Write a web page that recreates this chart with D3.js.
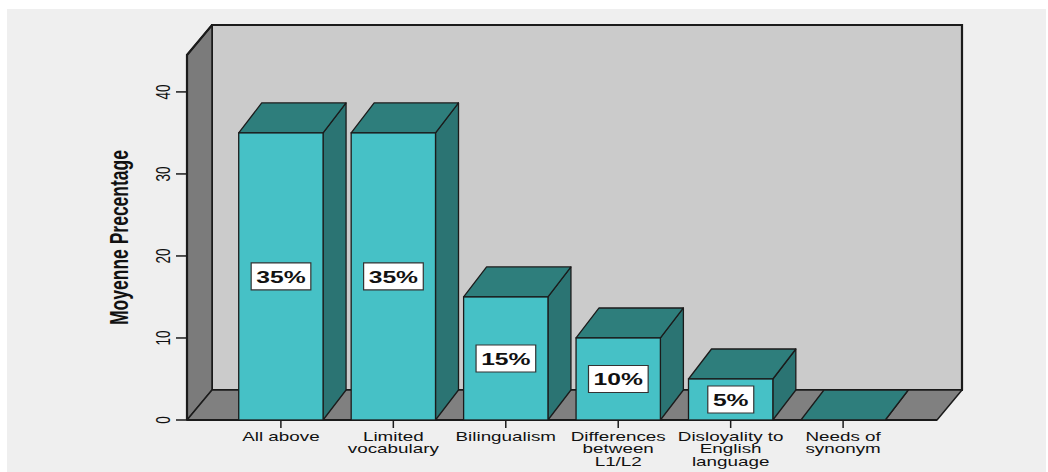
<!DOCTYPE html>
<html>
<head>
<meta charset="utf-8">
<script src="https://cdn.jsdelivr.net/npm/d3@7"></script>
<style>
  html, body { margin: 0; padding: 0; background: #ffffff; }
  svg { display: block; }
  text { font-family: "Liberation Sans", Arial, sans-serif; fill: #111; }
</style>
</head>
<body>
<svg id="chart" width="1048" height="472"></svg>
<script>
// Categories, split into the lines shown under each bar
const categories = [
  "All above",
  "Limited vocabulary",
  "Bilingualism",
  "Differences between L1/L2",
  "Disloyality to English language",
  "Needs of synonym"
];
const categoryLines = [
  ["All above"],
  ["Limited", "vocabulary"],
  ["Bilingualism"],
  ["Differences", "between", "L1/L2"],
  ["Disloyality to", "English", "language"],
  ["Needs of", "synonym"]
];
const values = [35, 35, 15, 10, 5, 0];
const yTicks = [0, 10, 20, 30, 40];
const yTitle = "Moyenne Precentage";

const svg = d3.select("#chart");
const W = 1048, H = 472;

// Page backdrop
svg.append("rect").attr("x", 7).attr("y", 9).attr("width", W - 9).attr("height", H - 9).attr("fill", "#efefef");

// Front plane of the 3D box and its depth offset
const x0 = 187, x1 = 937;        // front floor extent
const wallDx = 25, wallDy = -30; // depth of the box walls
const barDx = 23, barDy = -30;   // depth of each bar
const stretch = 1.45;            // horizontal stretch applied to all lettering

const x = d3.scaleBand()
  .domain(categories)
  .range([x0, x1])
  .paddingInner(0.25)
  .paddingOuter(0.46);

const y = d3.scaleLinear().domain([0, 44.5]).range([420, 55]);

const edge = "#1b1b1b";
const line = d3.line();

// Back wall
svg.append("rect")
  .attr("x", x0 + wallDx).attr("y", y(44.5) + wallDy)
  .attr("width", x1 - x0).attr("height", y(0) - y(44.5))
  .attr("fill", "#cbcbcb").attr("stroke", edge).attr("stroke-width", 2);

// Left wall
svg.append("path")
  .attr("d", line([[x0, y(0)], [x0, y(44.5)], [x0 + wallDx, y(44.5) + wallDy], [x0 + wallDx, y(0) + wallDy]]) + "Z")
  .attr("fill", "#7b7b7b").attr("stroke", edge).attr("stroke-width", 1.5).attr("stroke-linejoin", "round");

// Floor
svg.append("path")
  .attr("d", line([[x0, y(0)], [x1, y(0)], [x1 + wallDx, y(0) + wallDy], [x0 + wallDx, y(0) + wallDy]]) + "Z")
  .attr("fill", "#808080").attr("stroke", edge).attr("stroke-width", 1.5).attr("stroke-linejoin", "round");

// Heavier front-left and top edges of the box
svg.append("path")
  .attr("d", line([[x0, y(0)], [x0, y(44.5)], [x0 + wallDx, y(44.5) + wallDy], [x1 + wallDx, y(44.5) + wallDy], [x1 + wallDx, y(0) + wallDy]]))
  .attr("fill", "none").attr("stroke", edge).attr("stroke-width", 2.2);
svg.append("line")
  .attr("x1", x0).attr("x2", x1).attr("y1", y(0)).attr("y2", y(0))
  .attr("stroke", edge).attr("stroke-width", 2);

// Bars: side, top and front faces
const bw = x.bandwidth();
const idx = d3.range(categories.length);
const bars = svg.append("g").selectAll("g").data(idx).join("g");

bars.each(function (i) {
  const g = d3.select(this);
  const v = values[i];
  const bx = x(categories[i]);
  const top = y(v), base = y(0);
  g.append("path")
    .attr("d", line([[bx + bw, top], [bx + bw + barDx, top + barDy], [bx + bw + barDx, base + barDy], [bx + bw, base]]) + "Z")
    .attr("fill", "#2b7473").attr("stroke", edge).attr("stroke-width", 1.3).attr("stroke-linejoin", "round");
  g.append("path")
    .attr("d", line([[bx, top], [bx + barDx, top + barDy], [bx + bw + barDx, top + barDy], [bx + bw, top]]) + "Z")
    .attr("fill", "#2e7e7c").attr("stroke", edge).attr("stroke-width", 1.3).attr("stroke-linejoin", "round");
  if (v > 0) {
    g.append("rect")
      .attr("x", bx).attr("y", top).attr("width", bw).attr("height", base - top)
      .attr("fill", "#46c1c6").attr("stroke", edge).attr("stroke-width", 1.3);
  }
});

// Value labels in white boxes at the middle of each front face
bars.filter(i => values[i] > 0).each(function (i) {
  const v = values[i];
  const cx = x(categories[i]) + bw / 2;
  const cy = (y(v) + y(0)) / 2;
  const lab = d3.select(this).append("g").attr("transform", `translate(${cx},${cy}) scale(${stretch},1)`);
  const t = lab.append("text")
    .attr("text-anchor", "middle").attr("dy", "0.36em")
    .attr("font-size", 17).attr("font-weight", "bold")
    .text(v + "%");
  const bb = t.node().getBBox();
  lab.insert("rect", "text")
    .attr("x", bb.x - 3.5).attr("width", bb.width + 7)
    .attr("y", -13.5).attr("height", 27)
    .attr("fill", "#ffffff").attr("stroke", "#333").attr("stroke-width", 1.2)
    .attr("vector-effect", "non-scaling-stroke");
});

// Y axis ticks and rotated labels
const yAxis = svg.append("g");
yTicks.forEach(t => {
  yAxis.append("line")
    .attr("x1", 176).attr("x2", x0).attr("y1", y(t)).attr("y2", y(t))
    .attr("stroke", edge).attr("stroke-width", 1.5);
  yAxis.append("text")
    .attr("transform", `translate(170,${y(t)}) scale(${stretch},1) rotate(-90)`)
    .attr("text-anchor", "middle")
    .attr("font-size", 13.5)
    .text(t);
});

// Y axis title
svg.append("text")
  .attr("transform", `translate(128,237.5) scale(${stretch},1) rotate(-90)`)
  .attr("text-anchor", "middle")
  .attr("font-size", 17.5).attr("font-weight", "bold")
  .text(yTitle);

// X axis ticks and multi-line category labels
const xAxis = svg.append("g");
categories.forEach((c, i) => {
  const cx = x(c) + bw / 2;
  xAxis.append("line")
    .attr("x1", cx).attr("x2", cx).attr("y1", y(0)).attr("y2", 428)
    .attr("stroke", edge).attr("stroke-width", 1.5);
  const t = xAxis.append("text")
    .attr("transform", `translate(${cx},0) scale(${stretch},1)`)
    .attr("text-anchor", "middle")
    .attr("font-size", 13);
  categoryLines[i].forEach((l, k) => {
    t.append("tspan").attr("x", 0).attr("y", 441 + k * 12.3).text(l);
  });
});
</script>
</body>
</html>
